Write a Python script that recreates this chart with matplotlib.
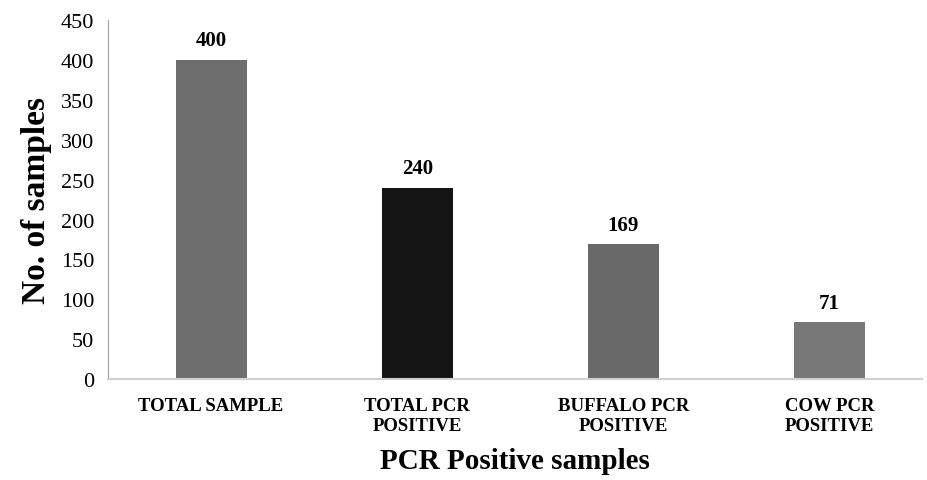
import matplotlib
matplotlib.use("Agg")
import matplotlib.pyplot as plt

categories = ["TOTAL SAMPLE", "TOTAL PCR\nPOSITIVE", "BUFFALO PCR\nPOSITIVE", "COW PCR\nPOSITIVE"]
counts = [400, 240, 169, 71]
bar_colors = ["#6e6e6e", "#141414", "#696969", "#787878"]
yticks = [0, 50, 100, 150, 200, 250, 300, 350, 400, 450]

plt.rcParams["font.family"] = ["Liberation Serif", "DejaVu Serif"]

fig = plt.figure(figsize=(9.27, 4.81), dpi=100)
ax = fig.add_axes([0.1165, 0.21, 0.8785, 0.746])

x = list(range(len(categories)))
ax.bar(x, counts, width=0.345, color=bar_colors)

for xi, v in zip(x, counts):
    ax.text(xi, v + 12, str(v), ha="center", va="bottom",
            fontsize=15, fontweight="bold")

ax.set_xlim(-0.5, 3.45)
ax.set_ylim(0, 450)
ax.set_yticks(yticks)
ax.tick_params(axis="y", length=0, labelsize=16, pad=10)
ax.tick_params(axis="x", length=0, pad=13)
ax.set_xticks(x)
ax.set_xticklabels(categories, fontsize=13.5, fontweight="bold",
                   linespacing=1.25)

for s in ["top", "right"]:
    ax.spines[s].set_visible(False)
ax.spines["left"].set_color("#a0a0a0")
ax.spines["bottom"].set_color("#d0d0d0")
ax.spines["bottom"].set_linewidth(1.5)

ax.set_ylabel("No. of samples", fontsize=24, fontweight="bold", labelpad=6)
ax.set_xlabel("PCR Positive samples", fontsize=21, fontweight="bold", labelpad=9)

fig.savefig("out.png", dpi=100)
